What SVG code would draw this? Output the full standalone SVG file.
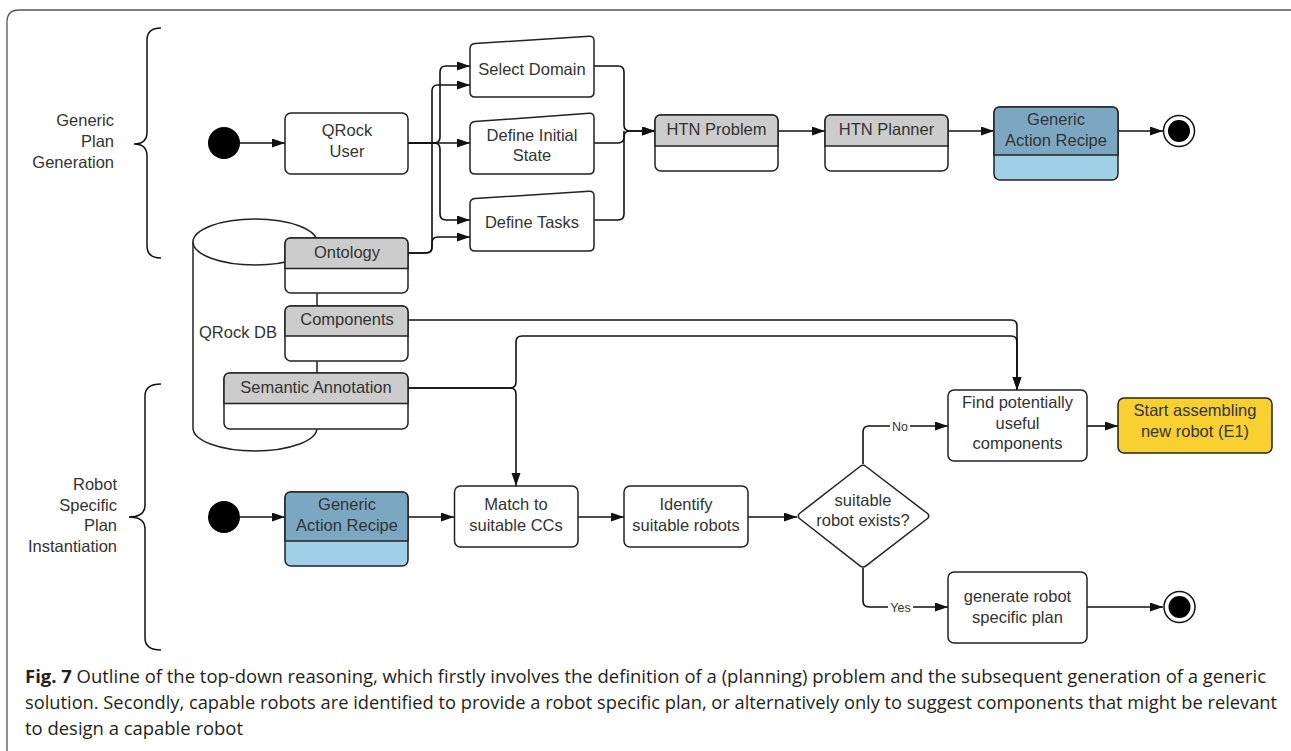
<svg xmlns="http://www.w3.org/2000/svg" width="1291" height="751" viewBox="0 0 1291 751">
<defs>
<marker id="ah" markerUnits="userSpaceOnUse" markerWidth="14" markerHeight="10" refX="13" refY="4.5" orient="auto">
<path d="M0,0 L13,4.5 L0,9 z" fill="#111"/>
</marker>
<style>
.t{font-family:"Liberation Sans",Arial,sans-serif;font-size:16.5px;fill:#333;}
.m{text-anchor:middle;}
.r{text-anchor:end;}
.box{fill:#fff;stroke:#222;stroke-width:1.5;}
.hdr{fill:#cccccc;stroke:#222;stroke-width:1.5;}
.c{fill:none;stroke:#111;stroke-width:1.6;}
.ca{fill:none;stroke:#111;stroke-width:1.6;marker-end:url(#ah);}
.br{fill:none;stroke:#111;stroke-width:1.5;}
.lbl{font-family:"Liberation Sans",Arial,sans-serif;font-size:12.5px;fill:#333;text-anchor:middle;}
.cap{font-family:"Open Sans","Liberation Sans",sans-serif;font-size:17.5px;fill:#231f20;}
</style>
</defs>
<rect width="1291" height="751" fill="#fff"/>
<path d="M7,751 V22 Q7,10 19,10 H1291" fill="none" stroke="#555" stroke-width="1.3"/>

<g id="brace-generic">
<path class="br" d="M161,28 Q147,28 147,40 V132 Q147,144 134,144 Q147,144 147,156 V246 Q147,258 161,258"/>
<text class="t r" x="114" y="126">Generic</text>
<text class="t r" x="114" y="147">Plan</text>
<text class="t r" x="114" y="168">Generation</text>
</g>
<g id="brace-robot">
<path class="br" d="M161,384 Q145,384 145,396 V505 Q145,517 129,517 Q145,517 145,529 V638 Q145,650 161,650"/>
<text class="t r" x="117" y="490">Robot</text>
<text class="t r" x="117" y="511">Specific</text>
<text class="t r" x="117" y="531">Plan</text>
<text class="t r" x="117" y="552">Instantiation</text>
</g>

<g id="qrock-db">
<path class="box" d="M193,242 V428 A62,23 0 0 0 317,428 V242"/>
<ellipse class="box" cx="255" cy="242" rx="62" ry="23"/>
<text class="t" x="199" y="338">QRock DB</text>
</g>

<g id="connectors">
<path class="ca" d="M240,143 H285"/>
<path class="ca" d="M408,143 H434 Q440,143 440,137 V72 Q440,66 446,66 H470"/>
<path class="ca" d="M408,143 H470"/>
<path class="ca" d="M408,143 H434 Q440,143 440,149 V214 Q440,220 446,220 H470"/>
<path class="ca" d="M408,253 H426 Q432,253 432,247 V91 Q432,85 438,85 H470"/>
<path class="ca" d="M408,253 H426 Q432,253 432,247 V243 Q432,237 438,237 H470"/>
<path class="ca" d="M594,66 H618 Q624,66 624,72 V125 Q624,131 630,131 H655"/>
<path class="c" d="M594,143 H618 Q624,143 624,137 V131"/>
<path class="ca" d="M594,220 H618 Q624,220 624,214 V137 Q624,131 630,131 H655"/>
<path class="ca" d="M778,131 H825"/>
<path class="ca" d="M948,131 H994"/>
<path class="ca" d="M1118,131 H1163"/>
<path class="ca" d="M408,320 H1011 Q1017,320 1017,326 V390"/>
<path class="ca" d="M408,388 H510 Q516,388 516,382 V342 Q516,336 522,336 H1011 Q1017,336 1017,342 V390"/>
<path class="ca" d="M408,388 H510 Q516,388 516,394 V486"/>
<path class="ca" d="M240,517 H285"/>
<path class="ca" d="M408,517 H454"/>
<path class="ca" d="M578,517 H624"/>
<path class="ca" d="M748,517 H797"/>
<path class="ca" d="M863,464 V432 Q863,426 869,426 H948"/>
<path class="ca" d="M863,568 V601 Q863,607 869,607 H948"/>
<path class="ca" d="M1087,426 H1118"/>
<path class="ca" d="M1087,607 H1163"/>
<rect x="890" y="419" width="20" height="14" fill="#fff"/>
<text class="lbl" x="900" y="430.5">No</text>
<rect x="888" y="600" width="25" height="14" fill="#fff"/>
<text class="lbl" x="900.5" y="611.5">Yes</text>
</g>

<g id="start1"><circle cx="224" cy="143" r="16" fill="#000"/></g>
<g id="qrock-user">
<rect class="box" x="285" y="113" width="123" height="61" rx="6"/>
<text class="t m" x="347" y="136">QRock</text>
<text class="t m" x="347" y="157">User</text>
</g>
<g id="select-domain">
<path class="box" d="M475,43.6 L589,36.3 Q594,36 594,41 V92 Q594,97 589,97 H475 Q470,97 470,92 V49 Q470,44 475,43.6 Z"/>
<text class="t m" x="532" y="75">Select Domain</text>
</g>
<g id="define-initial-state">
<path class="box" d="M475,121.6 L589,113.3 Q594,113 594,118 V169 Q594,174 589,174 H475 Q470,174 470,169 V127 Q470,122 475,121.6 Z"/>
<text class="t m" x="532" y="141">Define Initial</text>
<text class="t m" x="532" y="161">State</text>
</g>
<g id="define-tasks">
<path class="box" d="M475,198.6 L589,191.3 Q594,191 594,196 V246 Q594,251 589,251 H475 Q470,251 470,246 V204 Q470,199 475,198.6 Z"/>
<text class="t m" x="532" y="228">Define Tasks</text>
</g>
<g id="htn-problem">
<rect class="box" x="655" y="115" width="123" height="56" rx="6"/>
<path class="hdr" d="M661,115 H772 Q778,115 778,121 V146 H655 V121 Q655,115 661,115 Z"/>
<text class="t m" x="716.5" y="135">HTN Problem</text>
</g>
<g id="htn-planner">
<rect class="box" x="825" y="115" width="123" height="56" rx="6"/>
<path class="hdr" d="M831,115 H942 Q948,115 948,121 V146 H825 V121 Q825,115 831,115 Z"/>
<text class="t m" x="886.5" y="135">HTN Planner</text>
</g>
<g id="generic-action-recipe-1">
<rect x="994" y="107" width="124" height="73" rx="6" fill="#a0cfe8" stroke="#222" stroke-width="1.5"/>
<path d="M1000,107 H1112 Q1118,107 1118,113 V155 H994 V113 Q994,107 1000,107 Z" fill="#7ba7c3" stroke="#222" stroke-width="1.5"/>
<text class="t m" x="1056" y="125">Generic</text>
<text class="t m" x="1056" y="146">Action Recipe</text>
</g>
<g id="end1">
<circle cx="1179" cy="131" r="15.5" fill="#fff" stroke="#111" stroke-width="1.5"/>
<circle cx="1179" cy="131" r="11" fill="#000"/>
</g>
<g id="ontology">
<rect class="box" x="285" y="238" width="123" height="55" rx="6"/>
<path class="hdr" d="M291,238 H402 Q408,238 408,244 V268.5 H285 V244 Q285,238 291,238 Z"/>
<text class="t m" x="347" y="257.5">Ontology</text>
</g>
<g id="components">
<rect class="box" x="285" y="306" width="123" height="55" rx="6"/>
<path class="hdr" d="M291,306 H402 Q408,306 408,312 V336 H285 V312 Q285,306 291,306 Z"/>
<text class="t m" x="347" y="325">Components</text>
</g>
<g id="semantic-annotation">
<rect class="box" x="224" y="373" width="184" height="56" rx="6"/>
<path class="hdr" d="M230,373 H402 Q408,373 408,379 V403.5 H224 V379 Q224,373 230,373 Z"/>
<text class="t m" x="316" y="392.5">Semantic Annotation</text>
</g>
<g id="find-components">
<rect class="box" x="948" y="390" width="139" height="71" rx="6"/>
<text class="t m" x="1017.5" y="408">Find potentially</text>
<text class="t m" x="1017.5" y="429">useful</text>
<text class="t m" x="1017.5" y="449">components</text>
</g>
<g id="start-assembling">
<rect x="1118" y="398" width="154" height="55" rx="6" fill="#f8d130" stroke="#222" stroke-width="1.5"/>
<text class="t m" x="1195" y="416">Start assembling</text>
<text class="t m" x="1195" y="437">new robot (E1)</text>
</g>
<g id="start2"><circle cx="224" cy="517" r="16" fill="#000"/></g>
<g id="generic-action-recipe-2">
<rect x="285" y="492" width="123" height="74" rx="6" fill="#a0cfe8" stroke="#222" stroke-width="1.5"/>
<path d="M291,492 H402 Q408,492 408,498 V541 H285 V498 Q285,492 291,492 Z" fill="#7ba7c3" stroke="#222" stroke-width="1.5"/>
<text class="t m" x="347" y="510">Generic</text>
<text class="t m" x="347" y="530.5">Action Recipe</text>
</g>
<g id="match-ccs">
<rect class="box" x="454.5" y="486" width="123.5" height="61" rx="6"/>
<text class="t m" x="516" y="509.5">Match to</text>
<text class="t m" x="516" y="530.5">suitable CCs</text>
</g>
<g id="identify-robots">
<rect class="box" x="624" y="486" width="124" height="61" rx="6"/>
<text class="t m" x="686" y="509.5">Identify</text>
<text class="t m" x="686" y="530.5">suitable robots</text>
</g>
<g id="decision">
<path class="box" d="M860,466.5 Q863,464 866,466.5 L927.5,513.5 Q930,516 927.5,518.5 L866,565.8 Q863,568.3 860,565.8 L799.5,518.5 Q797,516 799.5,513.5 Z"/>
<text class="t m" x="863" y="506">suitable</text>
<text class="t m" x="863" y="526">robot exists?</text>
</g>
<g id="generate-plan">
<rect class="box" x="948" y="572" width="139" height="71" rx="6"/>
<text class="t m" x="1017.5" y="602">generate robot</text>
<text class="t m" x="1017.5" y="622.5">specific plan</text>
</g>
<g id="end2">
<circle cx="1179.5" cy="607" r="15.5" fill="#fff" stroke="#111" stroke-width="1.5"/>
<circle cx="1179.5" cy="607" r="11" fill="#000"/>
</g>

<g id="caption">
<text class="cap" x="25" y="683" textLength="1241" lengthAdjust="spacingAndGlyphs"><tspan font-weight="bold">Fig. 7</tspan> Outline of the top-down reasoning, which firstly involves the definition of a (planning) problem and the subsequent generation of a generic</text>
<text class="cap" x="25" y="709" textLength="1252" lengthAdjust="spacingAndGlyphs">solution. Secondly, capable robots are identified to provide a robot specific plan, or alternatively only to suggest components that might be relevant</text>
<text class="cap" x="25" y="735" textLength="218" lengthAdjust="spacingAndGlyphs">to design a capable robot</text>
</g>
</svg>
